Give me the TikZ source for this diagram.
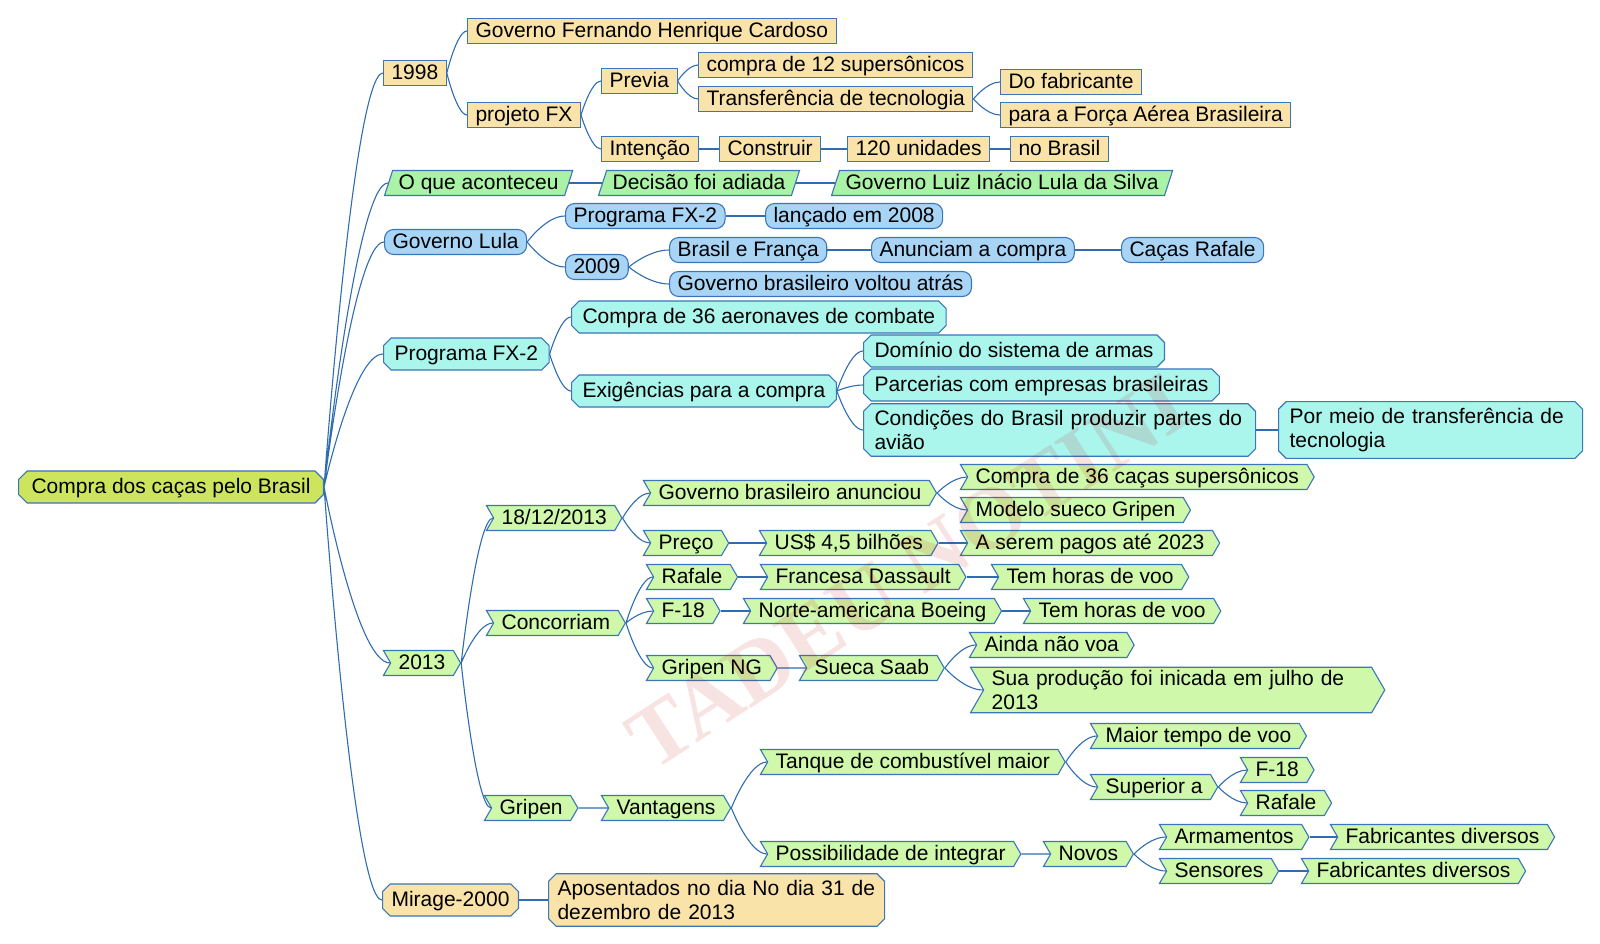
\documentclass[tikz,border=0pt]{standalone}
\usepackage{fontspec}
\setmainfont{Liberation Sans}
\newfontfamily\wmfont{Liberation Serif}
\usetikzlibrary{shapes.geometric,shapes.misc,shapes.symbols,calc}
\definecolor{edge}{HTML}{3A76B8}
\definecolor{linkc}{HTML}{2F6DB0}
\definecolor{tanfill}{HTML}{F9E3A8}
\definecolor{greenfill}{HTML}{A9F2A6}
\definecolor{bluefill}{HTML}{A8D4F6}
\definecolor{cyanfill}{HTML}{AAF5EC}
\definecolor{chevfill}{HTML}{CFF8AA}
\definecolor{rootfill}{HTML}{CDE55C}

\begin{document}
\begin{tikzpicture}[x=1pt,y=-1pt,line width=1.1pt,font=\fontsize{21}{24}\selectfont,
  mm/.style={draw=edge,anchor=west,inner xsep=8pt,inner ysep=3pt,text height=16pt,text depth=3pt},
  two/.style={text height=,text depth=,align=left,text width=#1},
  tanbox/.style={mm,fill=tanfill},
  slant/.style={mm,fill=greenfill,trapezium,trapezium left angle=72,trapezium right angle=108,inner xsep=6pt},
  pill/.style={mm,fill=bluefill,rounded corners=9pt},
  cham/.style={mm,fill=cyanfill,chamfered rectangle,chamfered rectangle xsep=4pt,inner xsep=7pt},
  chev/.style={mm,fill=chevfill,signal,signal to=east,signal from=west,signal pointer angle=120,inner xsep=8pt},
  rootbox/.style={mm,fill=rootfill,chamfered rectangle,chamfered rectangle xsep=5pt,inner xsep=8pt},
  link/.style={draw=linkc,line width=1.1pt,to path={let \p1=(\tikztostart),\p2=(\tikztotarget) in
    .. controls (\p1) and ({(\x1+\x2)/2},\y2) .. (\p2)}}]
\useasboundingbox (0,0) rectangle (1600,944);

\node[rootbox] (root) at (18,487) {Compra dos caças pelo Brasil};

% 1998
\node[tanbox] (y98) at (383,73) {1998};
\node[tanbox] (fhc) at (467,31) {Governo Fernando Henrique Cardoso};
\node[tanbox] (fx) at (467,115) {projeto FX};
\node[tanbox] (previa) at (601,81) {Previa};
\node[tanbox] (c12) at (698,65) {compra de 12 supersônicos};
\node[tanbox] (transf) at (698,99) {Transferência de tecnologia};
\node[tanbox] (dofab) at (1000,82) {Do fabricante};
\node[tanbox] (forca) at (1000,115) {para a Força Aérea Brasileira};
\node[tanbox] (intencao) at (601,149) {Intenção};
\node[tanbox] (construir) at (719,149) {Construir};
\node[tanbox] (unid) at (847,149) {120 unidades};
\node[tanbox] (nobr) at (1010,149) {no Brasil};

% o que aconteceu
\node[slant] (oque) at (388,183) {O que aconteceu};
\node[slant] (adiada) at (602,183) {Decisão foi adiada};
\node[slant] (lula) at (835,183) {Governo Luiz Inácio Lula da Silva};

% governo Lula
\node[pill] (glula) at (384,242) {Governo Lula};
\node[pill] (fx2) at (565,216) {Programa FX-2};
\node[pill] (l2008) at (765,216) {lançado em 2008};
\node[pill] (y09) at (565,267) {2009};
\node[pill] (brfr) at (669,250) {Brasil e França};
\node[pill] (anun) at (871,250) {Anunciam a compra};
\node[pill] (rafale) at (1121,250) {Caças Rafale};
\node[pill] (voltou) at (669,284) {Governo brasileiro voltou atrás};

% programa FX-2
\node[cham] (pfx2) at (383,354) {Programa FX-2};
\node[cham] (c36) at (571,317) {Compra de 36 aeronaves de combate};
\node[cham] (exig) at (571,391) {Exigências para a compra};
\node[cham] (dominio) at (863,351) {Domínio do sistema de armas};
\node[cham] (parc) at (863,385) {Parcerias com empresas brasileiras};
\node[cham,two=370pt] (cond) at (863,430) {Condições do Brasil produzir partes do\\avião};
\node[cham,two=282pt] (meio) at (1278,430) {Por meio de transferência de\\tecnologia};

% 2013
\node[chev] (y13) at (390,663) {2013};
\node[chev] (d1812) at (493,518) {18/12/2013};
\node[chev] (anunciou) at (650,493) {Governo brasileiro anunciou};
\node[chev] (c36c) at (967,477) {Compra de 36 caças supersônicos};
\node[chev] (sueco) at (967,510) {Modelo sueco Gripen};
\node[chev] (preco) at (650,543) {Preço};
\node[chev] (bilhoes) at (766,543) {US\$ 4,5 bilhões};
\node[chev] (pagos) at (967,543) {A serem pagos até 2023};
\node[chev] (conc) at (493,623) {Concorriam};
\node[chev] (raf) at (653,577) {Rafale};
\node[chev] (dassault) at (767,577) {Francesa Dassault};
\node[chev] (horas1) at (998,577) {Tem horas de voo};
\node[chev] (f18) at (653,611) {F-18};
\node[chev] (boeing) at (750,611) {Norte-americana Boeing};
\node[chev] (horas2) at (1030,611) {Tem horas de voo};
\node[chev] (gng) at (653,668) {Gripen NG};
\node[chev] (saab) at (806,668) {Sueca Saab};
\node[chev] (voa) at (976,645) {Ainda não voa};
\node[chev,two=372pt] (prod) at (983,690) {Sua produção foi inicada em julho de\\2013};
\node[chev] (gripen) at (491,808) {Gripen};
\node[chev] (vant) at (608,808) {Vantagens};
\node[chev] (tanque) at (767,762) {Tanque de combustível maior};
\node[chev] (maior) at (1097,736) {Maior tempo de voo};
\node[chev] (superior) at (1097,787) {Superior a};
\node[chev] (sf18) at (1247,770) {F-18};
\node[chev] (sraf) at (1247,803) {Rafale};
\node[chev] (possib) at (767,854) {Possibilidade de integrar};
\node[chev] (novos) at (1050,854) {Novos};
\node[chev] (armam) at (1166,837) {Armamentos};
\node[chev] (fab1) at (1337,837) {Fabricantes diversos};
\node[chev] (sens) at (1166,871) {Sensores};
\node[chev] (fab3) at (1308,871) {Fabricantes diversos};

% mirage
\node[tanbox,chamfered rectangle,chamfered rectangle xsep=4pt,inner xsep=5pt] (mirage) at (382,900) {Mirage-2000};
\node[tanbox,chamfered rectangle,chamfered rectangle xsep=4pt,inner xsep=5pt,two=318pt] (apos) at (548,900) {Aposentados no dia No dia 31 de\\dezembro de 2013};

% connectors
\draw[link] (root.east) to (y98.west) (root.east) to (oque.west) (root.east) to (glula.west)
  (root.east) to (pfx2.west) (root.east) to (y13.west) (root.east) to (mirage.west);
\draw[link] (y98.east) to (fhc.west) (y98.east) to (fx.west);
\draw[link] (fx.east) to (previa.west) (fx.east) to (intencao.west);
\draw[link] (previa.east) to (c12.west) (previa.east) to (transf.west);
\draw[link] (transf.east) to (dofab.west) (transf.east) to (forca.west);
\draw[link] (intencao.east) to (construir.west) (construir.east) to (unid.west) (unid.east) to (nobr.west);
\draw[link] (oque.east) to (adiada.west) (adiada.east) to (lula.west);
\draw[link] (glula.east) to (fx2.west) (glula.east) to (y09.west);
\draw[link] (fx2.east) to (l2008.west);
\draw[link] (y09.east) to (brfr.west) (y09.east) to (voltou.west);
\draw[link] (brfr.east) to (anun.west) (anun.east) to (rafale.west);
\draw[link] (pfx2.east) to (c36.west) (pfx2.east) to (exig.west);
\draw[link] (exig.east) to (dominio.west) (exig.east) to (parc.west) (exig.east) to (cond.west);
\draw[link] (cond.east) to (meio.west);
\draw[link] (y13.east) to (d1812.west) (y13.east) to (conc.west) (y13.east) to (gripen.west);
\draw[link] (d1812.east) to (anunciou.west) (d1812.east) to (preco.west);
\draw[link] (anunciou.east) to (c36c.west) (anunciou.east) to (sueco.west);
\draw[link] (preco.east) to (bilhoes.west) (bilhoes.east) to (pagos.west);
\draw[link] (conc.east) to (raf.west) (conc.east) to (f18.west) (conc.east) to (gng.west);
\draw[link] (raf.east) to (dassault.west) (dassault.east) to (horas1.west);
\draw[link] (f18.east) to (boeing.west) (boeing.east) to (horas2.west);
\draw[link] (gng.east) to (saab.west) (saab.east) to (voa.west) (saab.east) to (prod.west);
\draw[link] (gripen.east) to (vant.west) (vant.east) to (tanque.west) (vant.east) to (possib.west);
\draw[link] (tanque.east) to (maior.west) (tanque.east) to (superior.west);
\draw[link] (superior.east) to (sf18.west) (superior.east) to (sraf.west);
\draw[link] (possib.east) to (novos.west) (novos.east) to (armam.west) (novos.east) to (sens.west);
\draw[link] (armam.east) to (fab1.west) (sens.east) to (fab3.west);
\draw[link] (mirage.east) to (apos.west);

% watermark
\node[rotate=33,text=red!75!black,text opacity=.11,font=\wmfont\bfseries\fontsize{88}{88}\selectfont] (wm) at (908,572) {TADEU NOTINI};
\end{tikzpicture}
\end{document}
